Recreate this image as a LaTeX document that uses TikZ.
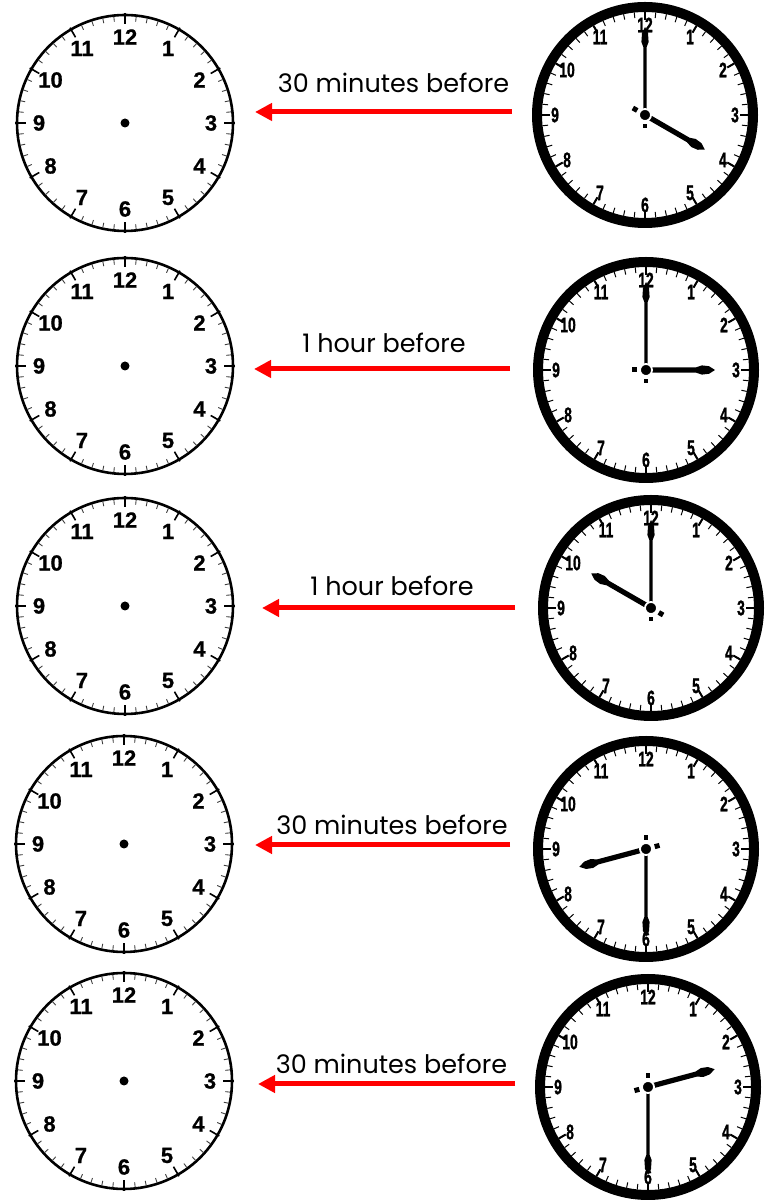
\documentclass[tikz,border=0pt]{standalone}
\usepackage{fontspec}
\usepackage{graphicx}
\setmainfont{Poppins}
\newfontfamily\numfont[BoldFeatures={FakeBold=0.8}]{Liberation Sans}
\newfontfamily\rnumfont[BoldFeatures={FakeBold=1.6}]{Liberation Sans}
\usetikzlibrary{arrows.meta}
\definecolor{arrowred}{RGB}{255,0,0}
\tikzset{
  redarrow/.style={draw=arrowred, line width=5pt, -{Triangle[length=17pt,width=17pt]}},
  lbl/.style={font=\fontsize{25.5}{28}\selectfont, anchor=base, inner sep=0pt},
  lnum/.style={font=\numfont\bfseries\fontsize{22}{24}\selectfont, inner sep=0pt},
  rnum/.style={font=\rnumfont\bfseries\fontsize{21}{23}\selectfont, inner sep=0pt},
  minortick/.style={line width=0.9pt, black!75},
  hourtick/.style={line width=1.6pt, black},
}
\newcommand\myleftclock[3]{%
  \coordinate (#1) at (#2,#3);
  \begin{scope}[shift={(#1)}]
    \draw[line width=2.6pt, fill=white] (0,0) circle (108pt);
    \foreach \i in {0,...,59} {\draw[minortick] (\i*6:107pt) -- (\i*6:102pt);}
    \foreach \h in {1,...,12} {
      \draw[hourtick] (90-\h*30:110pt) -- (90-\h*30:99pt);
      \node[lnum] at (90-\h*30:86pt) {\h};
    }
    \fill (0,0) circle (4.5pt);
  \end{scope}}
\newcommand\myrightclock[5]{%
  \coordinate (#1) at (#2,#3);
  \begin{scope}[shift={(#1)}]
    \fill[white] (0,0) circle (108pt);
    \draw[line width=10pt] (0,0) circle (108pt);
    \foreach \i in {0,...,59} {\draw[line width=1pt] (\i*6:103pt) -- (\i*6:97.5pt);}
    \foreach \h in {1,...,12} {
      \draw[line width=2pt] (90-\h*30:103pt) -- (90-\h*30:95pt);
      \node[rnum] at (90-\h*30:90pt) {\scalebox{0.66}[1]{\h}};
    }
    \begin{scope}[rotate=#4]
      \fill (-14pt,-2.5pt) rectangle (-9pt,2.5pt);
      \fill (0pt,-2.6pt) -- (50pt,-2.6pt) -- (56pt,-4.6pt) -- (63pt,-3.8pt) -- (69pt,0pt)
            -- (63pt,3.8pt) -- (56pt,4.6pt) -- (50pt,2.6pt) -- (0pt,2.6pt) -- cycle;
    \end{scope}
    \begin{scope}[rotate=#5]
      \fill (-13.5pt,-1.9pt) rectangle (-9pt,1.9pt);
      \fill (0pt,-1.7pt) -- (68pt,-1.7pt) -- (73pt,-3.6pt) -- (82pt,-3pt) -- (88pt,0pt)
            -- (82pt,3pt) -- (73pt,3.6pt) -- (68pt,1.7pt) -- (0pt,1.7pt) -- cycle;
    \end{scope}
    \filldraw[fill=black, draw=white, line width=1.8pt] (0,0) circle (6pt);
  \end{scope}}
\begin{document}
\begin{tikzpicture}[x=1pt,y=1pt]
\useasboundingbox (0,0) rectangle (765,1200);
\fill[white] (0,0) rectangle (765,1200);

% left (empty) clocks
\myleftclock{L1}{125}{1077}
\myleftclock{L2}{125}{834}
\myleftclock{L3}{125}{594}
\myleftclock{L4}{124}{356}
\myleftclock{L5}{124}{119}

% right clocks: name, x, y, hour-hand angle, minute-hand angle
\myrightclock{R1}{645}{1085}{-30}{90}
\myrightclock{R2}{646}{830}{0}{90}
\myrightclock{R3}{651}{592}{150}{90}
\myrightclock{R4}{646}{351}{195}{-90}
\myrightclock{R5}{648}{113}{15}{-90}

% arrows
\coordinate (a1s) at (512,1088); \coordinate (a1e) at (255,1088);
\coordinate (a2s) at (510,831);  \coordinate (a2e) at (254,831);
\coordinate (a3s) at (515,592);  \coordinate (a3e) at (262,592);
\coordinate (a4s) at (510,355);  \coordinate (a4e) at (255,355);
\coordinate (a5s) at (515,116);  \coordinate (a5e) at (258,116);
\draw[redarrow] (a1s) -- (a1e);
\draw[redarrow] (a2s) -- (a2e);
\draw[redarrow] (a3s) -- (a3e);
\draw[redarrow] (a4s) -- (a4e);
\draw[redarrow] (a5s) -- (a5e);

% labels
\node[lbl] (t1) at (393.5,1107) {30 minutes before};
\node[lbl] (t2) at (384,847) {1 hour before};
\node[lbl] (t3) at (392,604) {1 hour before};
\node[lbl] (t4) at (392,365) {30 minutes before};
\node[lbl] (t5) at (391.5,126) {30 minutes before};
\end{tikzpicture}
\end{document}
